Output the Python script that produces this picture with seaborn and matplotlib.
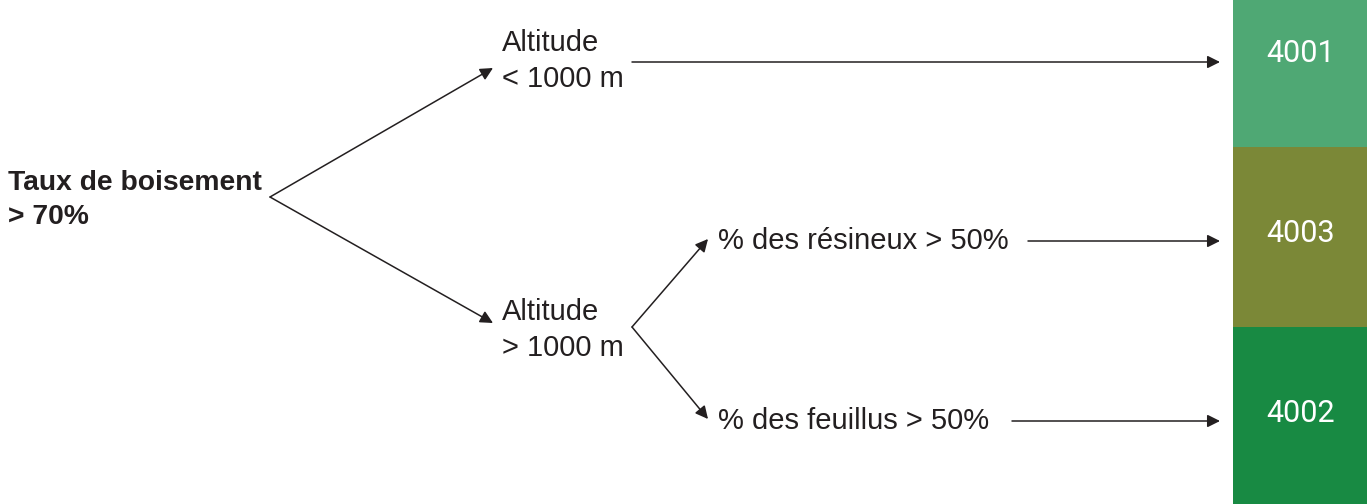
import matplotlib.pyplot as plt
import matplotlib.patches as mpatches
import seaborn as sns

# decision tree content
root_label = "Taux de boisement\n> 70%"
alt_labels = ["Altitude\n< 1000 m", "Altitude\n> 1000 m"]
share_labels = ["% des résineux > 50%", "% des feuillus > 50%"]
codes = ["4001", "4003", "4002"]
code_colors = ["#4fa874", "#7b8837", "#188a43"]
band_edges = [0, 147, 327, 504]

sns.set_theme(style="white")
plt.rcParams['font.family'] = ['Liberation Sans', 'DejaVu Sans']

W, H = 1367, 504
fig = plt.figure(figsize=(W / 100, H / 100), dpi=100)
ax = fig.add_axes([0, 0, 1, 1])
ax.set_xlim(0, W)
ax.set_ylim(H, 0)
ax.axis("off")

ink = "#231f20"
fs = 21


def arrow(x0, y0, x1, y1):
    ax.annotate("", xy=(x1, y1), xytext=(x0, y0),
                arrowprops=dict(arrowstyle="-|>", color=ink, lw=1.1,
                                mutation_scale=19, shrinkA=0, shrinkB=0))


# colored code column
code_y = [53, 233, 414]
for i, (code, col) in enumerate(zip(codes, code_colors)):
    y0, y1 = band_edges[i], band_edges[i + 1]
    ax.add_patch(mpatches.Rectangle((1233, y0), W - 1233, y1 - y0,
                                    facecolor=col, edgecolor="none"))
    ax.text(1301, code_y[i], code, color="white", fontsize=22,
            ha="center", va="center", family=["Roboto", "DejaVu Sans"])

# root
ax.text(8, 200, root_label, fontsize=20.3, fontweight="bold", color=ink,
        ha="left", va="center", linespacing=1.38)
arrow(270, 197, 493, 68)
arrow(270, 197, 493, 323)

# altitude nodes
ax.text(502, 61, alt_labels[0], fontsize=fs, color=ink, ha="left", va="center",
        linespacing=1.38)
ax.text(502, 330, alt_labels[1], fontsize=fs, color=ink, ha="left", va="center",
        linespacing=1.38)
arrow(632, 62, 1220, 62)
arrow(632, 327, 708, 239)
arrow(632, 327, 708, 419)

# share nodes
ax.text(718, 241, share_labels[0], fontsize=fs, color=ink, ha="left", va="center")
ax.text(718, 421, share_labels[1], fontsize=fs, color=ink, ha="left", va="center")
arrow(1028, 241, 1220, 241)
arrow(1012, 421, 1220, 421)

fig.savefig("out.png", dpi=100, facecolor="white")
